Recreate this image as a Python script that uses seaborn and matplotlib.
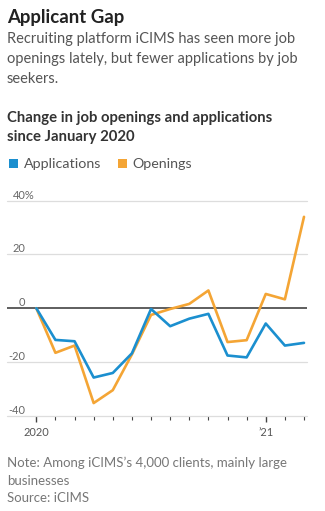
import matplotlib
matplotlib.use("Agg")
import matplotlib.pyplot as plt
import matplotlib.transforms as mtransforms
from matplotlib.patches import Rectangle
import seaborn as sns
import pandas as pd

# ---- data ----
months = ["2020-01", "2020-02", "2020-03", "2020-04", "2020-05", "2020-06",
          "2020-07", "2020-08", "2020-09", "2020-10", "2020-11", "2020-12",
          "2021-01", "2021-02", "2021-03"]
applications = [0, -11.8, -12.3, -25.8, -24.1, -16.8, -0.3, -6.7, -3.9, -2.1,
                -17.6, -18.3, -5.7, -13.9, -12.9]
openings = [0, -16.6, -13.9, -35.3, -30.5, -17.2, -2.5, -0.3, 1.6, 6.6,
            -12.6, -11.9, 5.3, 3.3, 34.0]
y_ticks = [40, 20, 0, -20, -40]
y_tick_labels = ["40%", "20", "0", "-20", "-40"]
x_major = {0: "2020", 12: "\u201921"}

BLUE = "#1b8fcf"
ORANGE = "#f4a535"

sns.set_theme(style="white")
FONT = ["Lato", "DejaVu Sans"]
plt.rcParams["font.family"] = FONT

W, H = 325, 511
fig = plt.figure(figsize=(W / 100, H / 100), dpi=100)

def px(x, y):
    return x / W, 1 - y / H

# axes geometry (pixels)
ax_l, ax_r, ax_t, ax_b = 7, 307, 200.7, 415.7
ax = fig.add_axes([ax_l / W, 1 - ax_b / H, (ax_r - ax_l) / W, (ax_b - ax_t) / H])

df = pd.DataFrame({
    "idx": list(range(len(months))) * 2,
    "value": applications + openings,
    "series": ["Applications"] * len(months) + ["Openings"] * len(months),
})
sns.lineplot(data=df, x="idx", y="value", hue="series",
             palette={"Applications": BLUE, "Openings": ORANGE},
             hue_order=["Openings", "Applications"],
             linewidth=1.9, legend=False, ax=ax, zorder=3)

# scales
step = 19.12
ax.set_xlim(-(36.3 - ax_l) / step, len(months) - 1 + (ax_r - 304) / step)
ax.set_ylim(-40, 40)

for s in ax.spines.values():
    s.set_visible(False)
ax.set_xlabel("")
ax.set_ylabel("")

# gridlines
for v in y_ticks:
    if v == 0:
        ax.axhline(v, color="#333333", lw=1.1, zorder=2)
    else:
        ax.axhline(v, color="#dddddd", lw=0.9, zorder=1, clip_on=False)

# y labels above gridlines
trans = mtransforms.blended_transform_factory(ax.transAxes, ax.transData)
for v, lab in zip(y_ticks, y_tick_labels):
    t = mtransforms.offset_copy(trans, fig=fig, x=0, y=1.5, units="points")
    if lab.endswith("%"):
        ax.text((13 - ax_l) / (ax_r - ax_l), v, lab, transform=t, ha="left",
                va="baseline", fontsize=7.9, color="#666666")
    else:
        ax.text((25.5 - ax_l) / (ax_r - ax_l), v, lab, transform=t, ha="right",
                va="baseline", fontsize=7.9, color="#666666")
ax.set_yticks([])

# x ticks
ax.set_xticks(range(len(months)))
ax.set_xticklabels([x_major.get(i, "") for i in range(len(months))])
ax.tick_params(axis="x", bottom=True, length=3.2, width=0.8, color="#444444",
               labelsize=7.9, labelcolor="#555555", pad=5)
for i, tl in enumerate(ax.xaxis.get_major_ticks()):
    if i in x_major:
        tl.tick1line.set_markersize(4.5)
        tl.tick1line.set_markeredgewidth(1.0)

# ---- texts ----
fig.text(*px(7, 23), "Applicant Gap", fontsize=13.4, fontweight="bold",
         color="#222222", va="baseline", ha="left")
sub = ["Recruiting platform iCIMS has seen more job",
       "openings lately, but fewer applications by job",
       "seekers."]
for i, line in enumerate(sub):
    fig.text(*px(7, 43.3 + 19.8 * i), line, fontsize=10.55, color="#555555",
             va="baseline", ha="left")
ctitle = ["Change in job openings and applications", "since January 2020"]
for i, line in enumerate(ctitle):
    fig.text(*px(7, 121.7 + 19.2 * i), line, fontsize=10.7, fontweight="bold",
             color="#333333", va="baseline", ha="left")

# legend
for (x0, lab, col) in [(9.3, "Applications", BLUE), (117.5, "Openings", ORANGE)]:
    fig.patches.append(Rectangle(px(x0, 168), 9 / W, 9 / H, transform=fig.transFigure,
                                 facecolor=col, edgecolor="none"))
    fig.text(*px(x0 + 14.5, 168.3), lab, fontsize=10.3, color="#555555",
             va="baseline", ha="left")

notes = ["Note: Among iCIMS\u2019s 4,000 clients, mainly large",
         "businesses", "Source: iCIMS"]
for i, line in enumerate(notes):
    fig.text(*px(7, 467.3 + 17.2 * i), line, fontsize=9.5, color="#777777",
             va="baseline", ha="left")

fig.savefig("out.png", dpi=100, facecolor="white")
